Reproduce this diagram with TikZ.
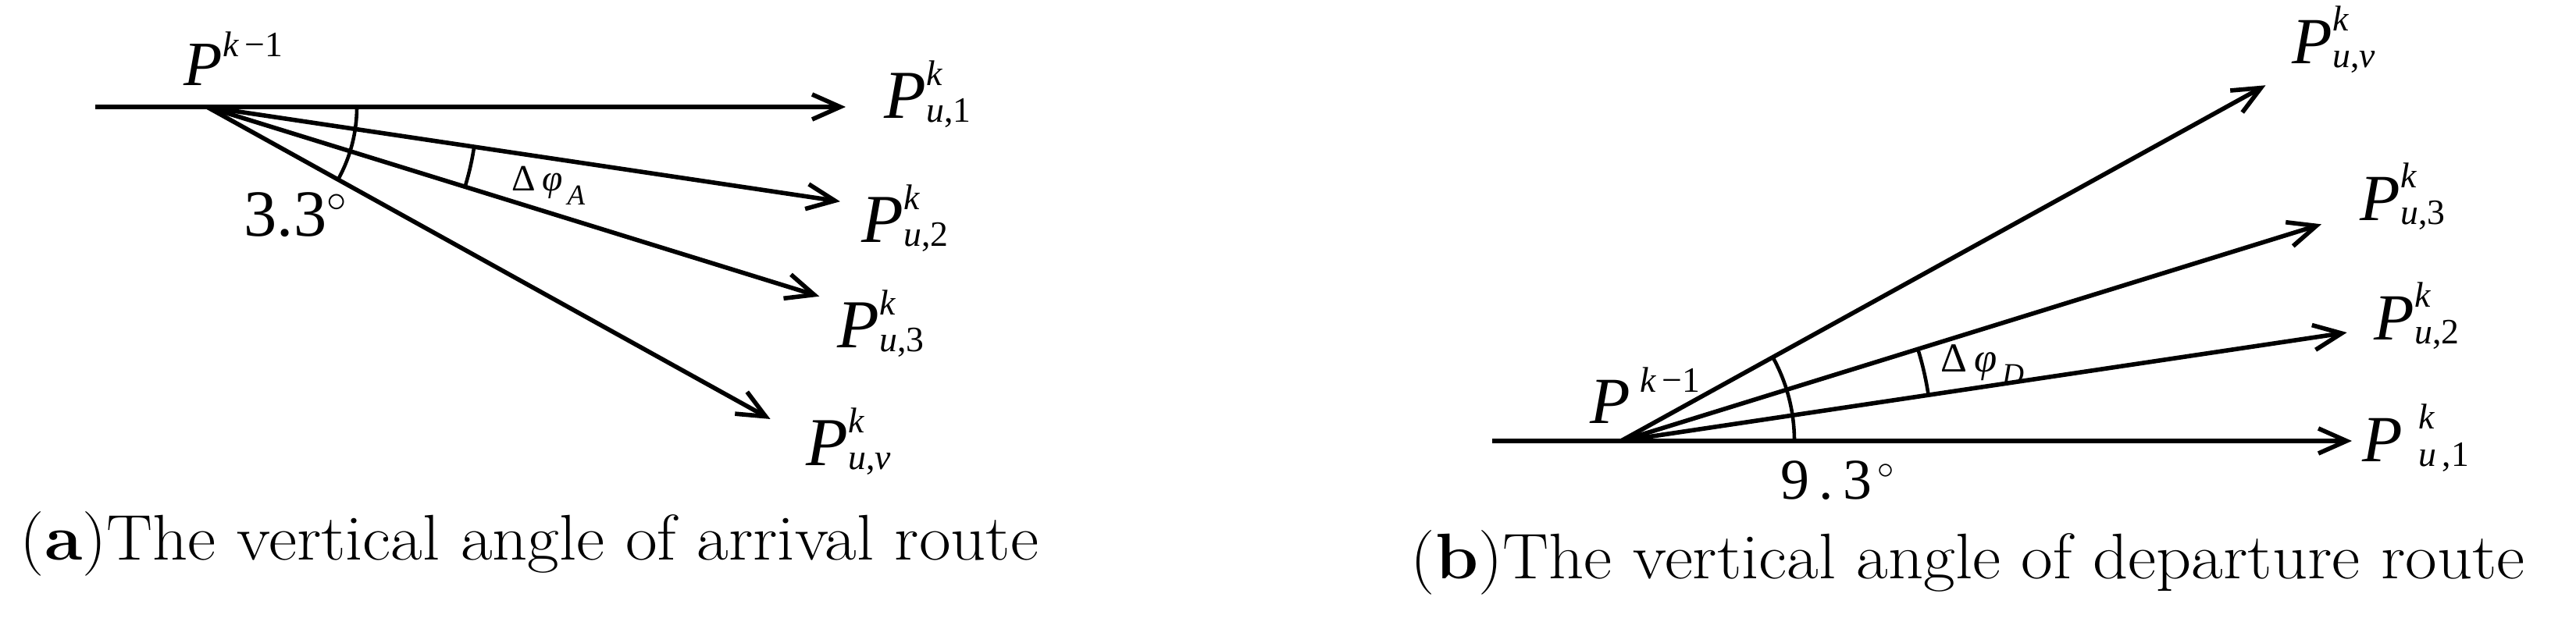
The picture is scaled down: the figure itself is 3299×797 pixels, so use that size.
\documentclass[tikz,border=0pt]{standalone}
\usepackage{amsmath}
\usepackage{graphicx}
\usepackage{fontspec}
\usepackage{tikz}
\usetikzlibrary{arrows.meta}
\newfontfamily\timesfont{Liberation Serif}
\DeclareMathSizes{24}{24}{14}{10}
\DeclareMathSizes{21}{21}{12}{9}
\tikzset{route/.style = {line width = 1.6pt,
                         -{Straight Barb[length = 0.36cm, width = 0.32cm]}}}
\tikzset{angarc/.style = {line width = 1.3pt}}
\tikzset{lbl/.style = {inner sep = 0, anchor = base west,
                       font = \timesfont\fontsize{25}{30}\selectfont}}
\tikzset{anglbl/.style = {inner sep = 0, anchor = base west, font = \timesfont}}
\tikzset{subcap/.style = {inner sep = 0, anchor = base west,
                          font = \fontsize{23.5}{28}\selectfont}}
\newcommand{\lblscript}{\fontsize{13}{13}\selectfont}
\newcommand{\Plbl}[3][0pt]{\textit{P}\hspace{#1}%
  \makebox[0pt][l]{\raisebox{0.42cm}{\lblscript #2}}\raisebox{-0.05cm}{\lblscript #3}}
\newcommand{\subcaptext}[2]{\scalebox{1.07}[1]{(\textbf{#1})#2}}

\begin{document}
\begin{tikzpicture}[x = 0.01cm, y = 0.01cm]
      \useasboundingbox (0, 0) rectangle (3299, 797);

      % (a) arrival route
      \coordinate (Sa) at (122, 660);
      \coordinate (Oa) at (265, 660);
      \path (Oa) ++(0:818) coordinate (Ta1);
      \path (Oa) ++(-8.5:820) coordinate (Ta2);
      \path (Oa) ++(-17.2:821) coordinate (Ta3);
      \path (Oa) ++(-29:825) coordinate (Tav);

      \draw [route] (Sa) -- (Ta1);
      \draw [route] (Oa) -- (Ta2);
      \draw [route] (Oa) -- (Ta3);
      \draw [route] (Oa) -- (Tav);
      \draw [angarc] (Oa) ++(0:192) arc (0:-29:192);
      \draw [angarc] (Oa) ++(-8.5:346) arc (-8.5:-17.2:346);

      \node [lbl, font = \timesfont\fontsize{23}{28}\selectfont] (Pa) at (235, 687)
            {\textit{P}\raisebox{0.37cm}{\lblscript\textit{k}\,−1}};
      \node [lbl] (Pa1) at (1132, 645) {\Plbl{\textit{k}}{\textit{u},1}};
      \node [lbl] (Pa2) at (1103, 486) {\Plbl{\textit{k}}{\textit{u},2}};
      \node [lbl] (Pa3) at (1072, 351) {\Plbl{\textit{k}}{\textit{u},3}};
      \node [lbl] (Pav) at (1032, 200) {\Plbl{\textit{k}}{\textit{u},\textit{v}}};
      \node [anglbl, font = \timesfont\fontsize{13.5}{16}\selectfont] (dA) at (655, 552)
            {Δ\,\textit{φ}\raisebox{-0.17cm}{\fontsize{10.5}{12}\selectfont\,\textit{A}}};
      \node [anglbl, font = \timesfont\fontsize{24}{28}\selectfont] (angA) at (312, 494)
            {3.3$^{\circ}$};
      \node [subcap] (capA) at (25, 79) {\subcaptext{a}{The vertical angle of arrival route}};

      % (b) departure route
      \coordinate (Sb) at (1911, 232);
      \coordinate (Ob) at (2076, 232);
      \path (Ob) ++(0:936) coordinate (Tb1);
      \path (Ob) ++(8.5:940) coordinate (Tb2);
      \path (Ob) ++(17.2:939) coordinate (Tb3);
      \path (Ob) ++(28.9:943) coordinate (Tbv);

      \draw [route] (Sb) -- (Tb1);
      \draw [route] (Ob) -- (Tb2);
      \draw [route] (Ob) -- (Tb3);
      \draw [route] (Ob) -- (Tbv);
      \draw [angarc] (Ob) ++(0:222) arc (0:28.9:222);
      \draw [angarc] (Ob) ++(8.5:398) arc (8.5:17.2:398);

      \node [lbl, font = \timesfont\fontsize{24}{29}\selectfont] (Pb) at (2036, 254)
            {\textit{P}\hspace{0.12cm}\raisebox{0.4cm}{\lblscript\textit{k}\,−1}};
      \node [lbl, font = \timesfont\fontsize{24}{29}\selectfont] (Pb1) at (3025, 205)
            {\Plbl[0.2cm]{\textit{k}}{\textit{u}\,,1}};
      \node [lbl, font = \timesfont\fontsize{24}{29}\selectfont] (Pb2) at (3040, 361)
            {\Plbl{\textit{k}}{\textit{u},2}};
      \node [lbl, font = \timesfont\fontsize{24}{29}\selectfont] (Pb3) at (3022, 514)
            {\Plbl{\textit{k}}{\textit{u},3}};
      \node [lbl, font = \timesfont\fontsize{24}{29}\selectfont] (Pbv) at (2935, 715)
            {\Plbl{\textit{k}}{\textit{u},\textit{v}}};
      \node [anglbl, font = \timesfont\fontsize{15}{18}\selectfont] (dD) at (2485, 320)
            {Δ\,\textit{φ}\raisebox{-0.15cm}{\fontsize{11}{13}\selectfont\,\textit{D}}};
      \node [anglbl, font = \timesfont\fontsize{21}{25}\selectfont] (angD) at (2280, 157)
            {9\,.\,3$^{\,\circ}$};
      \node [subcap] (capB) at (1806, 55) {\subcaptext{b}{The vertical angle of departure route}};
    \end{tikzpicture}
\end{document}
